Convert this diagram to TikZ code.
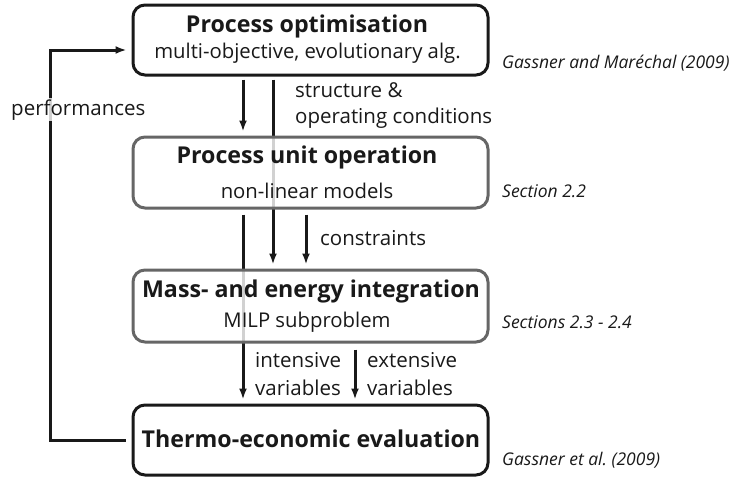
\documentclass[tikz,border=0pt]{standalone}
\usepackage{fontspec}
\setmainfont{Open Sans}
\usetikzlibrary{arrows.meta,backgrounds}
\begin{document}
\begin{tikzpicture}[x=1pt,y=-1pt,
  blackbox/.style={draw=black!90, rounded corners=12pt, line width=3pt, fill=white, fill opacity=0.8, minimum width=355pt, inner sep=0pt},
  graybox/.style={blackbox, draw=black!60},
  title/.style={font=\fontsize{23.2}{28}\selectfont\bfseries, text=black!90, inner sep=0pt, anchor=base},
  sub/.style={font=\fontsize{20.3}{24}\selectfont, text=black!90, inner sep=0pt, anchor=base},
  lbl/.style={font=\fontsize{20.5}{27}\selectfont, text=black!90, inner sep=0pt, anchor=base west},
  cite/.style={font=\fontsize{17.5}{20}\selectfont\itshape, text=black!90, anchor=base west, inner sep=0pt},
  flow/.style={line width=3pt, draw=black!90},
  arr/.style={flow, -{Latex[length=11pt,width=8pt]}}
]
\useasboundingbox (0,0) rectangle (730,477);

% boxes
\node[blackbox, minimum height=70pt] (b1) at (310.5,40) {};
\node[graybox, minimum height=71pt] (b2) at (310.5,172.5) {};
\node[graybox, minimum height=72pt] (b3) at (310.5,306) {};
\node[blackbox, minimum height=70pt] (b4) at (310.5,440) {};

\coordinate (fbA) at (50,440);
\coordinate (fbB) at (50,50);

% connectors behind the boxes
\begin{scope}[on background layer]
\draw[arr] ([xshift=-37.5pt,yshift=-3pt]b1.south) -- ([xshift=-37.5pt,yshift=4pt]b3.north);
\draw[arr] ([xshift=-67.5pt,yshift=-5pt]b2.south) -- ([xshift=-67.5pt,yshift=4pt]b4.north);
\draw[arr] ([xshift=-67.5pt,yshift=-3pt]b1.south) -- ([xshift=-67.5pt,yshift=4pt]b2.north);
\draw[arr] ([xshift=-4.5pt,yshift=-5pt]b2.south) -- ([xshift=-4.5pt,yshift=4pt]b3.north);
\draw[arr] ([xshift=44.5pt,yshift=-6pt]b3.south) -- ([xshift=44.5pt,yshift=4pt]b4.north);
\draw[arr, line join=miter] ([xshift=-6pt]b4.west) -- (fbA) -- (fbB) -- ([xshift=-5pt,yshift=-10pt]b1.west);
\end{scope}

% box texts
\node[title] (t1) at (307,32) {Process optimisation};
\node[sub] (s1) at (307.5,58.5) {multi-objective, evolutionary alg.};
\node[title] (t2) at (307,163) {Process unit operation};
\node[sub] (s2) at (307,198) {non-linear models};
\node[title] (t3) at (311,297) {Mass- and energy integration};
\node[sub] (s3) at (307,327) {MILP subproblem};
\node[title] (t4) at (311,447) {Thermo-economic evaluation};

% connector labels
\node[lbl] (l1a) at (295,97) {structure \&};
\node[lbl] (l1b) at (295,123) {operating conditions};
\node[lbl] (l2) at (320,245) {constraints};
\node[lbl] (l3a) at (255,367) {intensive};
\node[lbl] (l3b) at (255,395) {variables};
\node[lbl] (l4a) at (367,367) {extensive};
\node[lbl] (l4b) at (367,395) {variables};
\node[lbl, fill=white, fill opacity=0.8, text opacity=1, inner sep=1pt] (l5) at (10,115) {performances};

% citations
\node[cite] (c1) at (502,68) {Gassner and Maréchal (2009)};
\node[cite] (c2) at (502,197) {Section 2.2};
\node[cite] (c3) at (502,328) {Sections 2.3 - 2.4};
\node[cite] (c4) at (502,465) {Gassner et al.\ (2009)};
\end{tikzpicture}
\end{document}
